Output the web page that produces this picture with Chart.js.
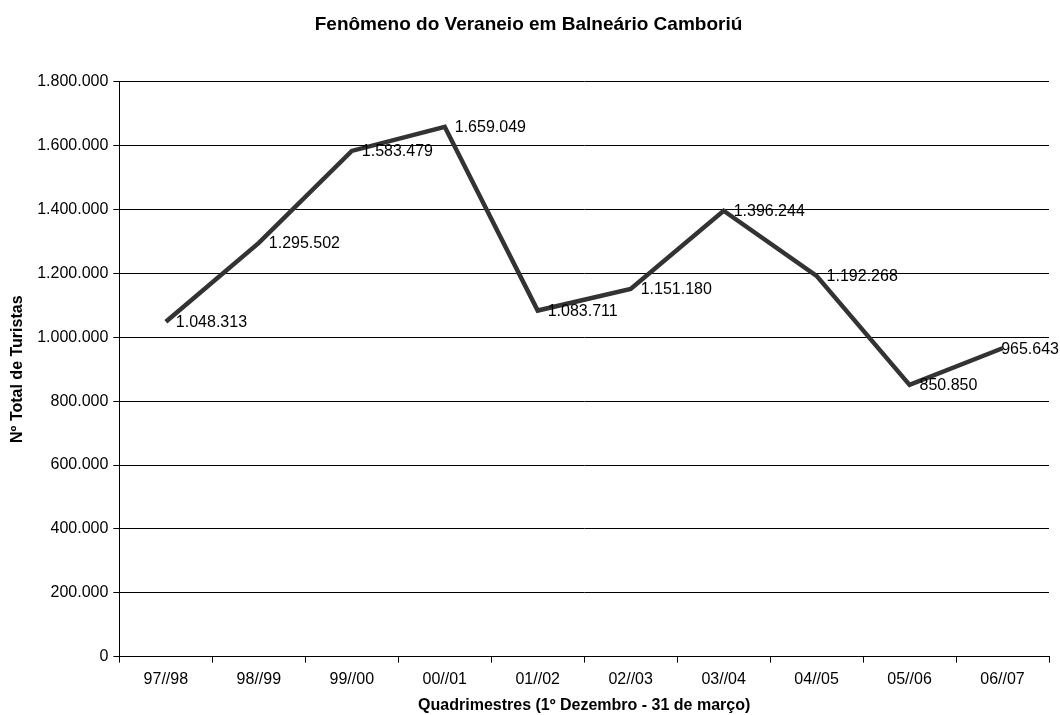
<!DOCTYPE html>
<html>

<head>
    <title>Fenômeno do Veraneio</title>
    <script src="https://cdn.jsdelivr.net/npm/chart.js"></script>
    <style>
        body { margin: 0; background: #fff; }
    </style>
</head>

<body>
    <canvas id="myChart" width="1060" height="715"></canvas>

    <script>
        var temporadas = ['97//98', '98//99', '99//00', '00//01', '01//02', '02//03', '03//04', '04//05', '05//06', '06//07'];
        var turistas = [1048313, 1295502, 1583479, 1659049, 1083711, 1151180, 1396244, 1192268, 850850, 965643];

        var fonte = 'Arial, "Liberation Sans", sans-serif';

        function milhar(v) {
            return String(v).replace(/\B(?=(\d{3})+(?!\d))/g, '.');
        }

        // rotulos dos pontos, a direita de cada ponto (o ultimo fica dentro do canvas)
        var rotulos = {
            id: 'rotulos',
            afterDatasetsDraw: function (chart) {
                var c = chart.ctx;
                var meta = chart.getDatasetMeta(0);
                c.save();
                c.font = '16px ' + fonte;
                c.fillStyle = '#000';
                c.textAlign = 'left';
                c.textBaseline = 'middle';
                meta.data.forEach(function (p, i) {
                    var txt = milhar(turistas[i]);
                    var w = c.measureText(txt).width;
                    var lx = p.x + 10;
                    if (lx + w > chart.width - 1) lx = chart.width - 1 - w;
                    c.fillText(txt, lx, p.y + 1);
                });
                c.restore();
            }
        };

        var ctx = document.getElementById('myChart').getContext('2d');

        var myChart = new Chart(ctx, {
            type: 'line',
            data: {
                labels: temporadas,
                datasets: [{
                    data: turistas,
                    borderColor: '#333333',
                    borderWidth: 4.5,
                    pointRadius: 0,
                    tension: 0,
                    borderJoinStyle: 'miter'
                }]
            },
            options: {
                responsive: false,
                animation: false,
                layout: { padding: { top: 0, right: 11, left: 8, bottom: 0 } },
                plugins: {
                    legend: { display: false },
                    tooltip: { enabled: false },
                    title: {
                        display: true,
                        text: 'Fenômeno do Veraneio em Balneário Camboriú',
                        color: '#000',
                        font: { family: fonte, size: 19, weight: 'bold' },
                        padding: { top: 13, bottom: 46 }
                    }
                },
                scales: {
                    x: {
                        offset: true,
                        grid: {
                            offset: true,
                            drawOnChartArea: false,
                            color: '#000',
                            tickLength: 6,
                            tickColor: '#000'
                        },
                        border: { color: '#000', width: 1 },
                        ticks: {
                            color: '#000',
                            font: { family: fonte, size: 16 },
                            padding: 7,
                            maxRotation: 0,
                            autoSkip: false
                        },
                        title: {
                            display: true,
                            text: 'Quadrimestres (1º Dezembro - 31 de março)',
                            color: '#000',
                            font: { family: fonte, size: 16, weight: 'bold' },
                            padding: { top: 0, bottom: 0 }
                        }
                    },
                    y: {
                        min: 0,
                        max: 1800000,
                        grid: {
                            color: '#000',
                            lineWidth: 1,
                            tickLength: 6,
                            tickColor: '#000'
                        },
                        border: { color: '#000', width: 1 },
                        ticks: {
                            stepSize: 200000,
                            color: '#000',
                            font: { family: fonte, size: 16 },
                            padding: 5,
                            callback: function (v) { return milhar(v); }
                        },
                        title: {
                            display: true,
                            text: 'Nº Total de Turistas',
                            color: '#000',
                            font: { family: fonte, size: 16, weight: 'bold' },
                            padding: { top: 0, bottom: 5 }
                        }
                    }
                }
            },
            plugins: [rotulos]
        });
    </script>

</body>

</html>
